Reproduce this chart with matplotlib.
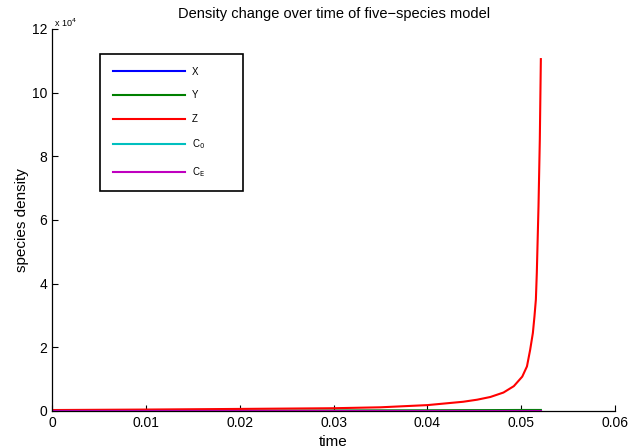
import numpy as np
import matplotlib.pyplot as plt
from matplotlib.ticker import FuncFormatter

plt.rcParams['font.family'] = ['Liberation Sans', 'DejaVu Sans']

# ---- values (time, density) ----
t = [0.0, 0.01, 0.02, 0.03, 0.035, 0.04, 0.0438, 0.0453, 0.0467, 0.0481,
     0.0492, 0.0501, 0.0506, 0.05094, 0.05123, 0.0514, 0.05155, 0.05165,
     0.05183, 0.05197, 0.05208]
z = [300, 450, 650, 870, 1160, 1850, 2900, 3550, 4400, 5800,
     7800, 10800, 14000, 19200, 24500, 29700, 35000, 43400,
     64300, 85300, 110500]
x_ = [0, 0, 0, 10, 15, 20, 30, 35, 40, 50, 55, 60, 60, 60, 60, 60, 60, 60, 60, 60, 60]
y_ = [0, 40, 90, 150, 190, 220, 260, 270, 280, 300, 310, 320, 320, 320, 320, 320,
      320, 320, 320, 320, 320]
c0 = [0] * len(t)
ce = [0] * len(t)

pad = '          '
labels = ['X' + pad, 'Y' + pad, 'Z' + pad, r'C$_\mathrm{0}$' + pad, r'C$_\mathrm{E}$' + pad]
colors = ['#0000ff', '#008000', '#ff0000', '#00bfbf', '#bf00bf']

fig = plt.figure(figsize=(6.3, 4.48), dpi=100)
ax = fig.add_axes([0.0825, 0.0826, 0.894, 0.853])

for vals, lab, col in zip([x_, y_, z, c0, ce], labels, colors):
    ax.plot(t, vals, color=col, lw=1.5, label=lab)

ax.set_xlim(0, 0.06)
ax.set_ylim(0, 12e4)
ax.set_xticks(np.arange(0, 0.061, 0.01))
ax.set_xticklabels(['0', '0.01', '0.02', '0.03', '0.04', '0.05', '0.06'])
ax.set_yticks(np.arange(0, 12e4 + 1, 2e4))
ax.yaxis.set_major_formatter(FuncFormatter(lambda v, p: f'{v / 1e4:g}'))
ax.tick_params(direction='in', length=4, labelsize=10, width=0.8)
for s in ['top', 'right']:
    ax.spines[s].set_visible(False)
for s in ['left', 'bottom']:
    ax.spines[s].set_linewidth(0.9)

ax.text(0.003, 1.0, r'x 10$^4$', transform=ax.transAxes, fontsize=6.5,
        ha='left', va='bottom')
ax.set_title('Density change over time of five\u2212species model', fontsize=10.5, pad=8)
ax.set_xlabel('time', fontsize=11, labelpad=4)
ax.set_ylabel('species density', fontsize=11, labelpad=2)

leg = ax.legend(loc='upper left', bbox_to_anchor=(0.0853, 0.934), borderaxespad=0,
                fontsize=7, handlelength=7.4, handletextpad=0.8, labelspacing=1.4,
                borderpad=1.3, fancybox=False, edgecolor='black', framealpha=1)
leg.get_frame().set_linewidth(1.2)

fig.savefig('out.png', dpi=100)
